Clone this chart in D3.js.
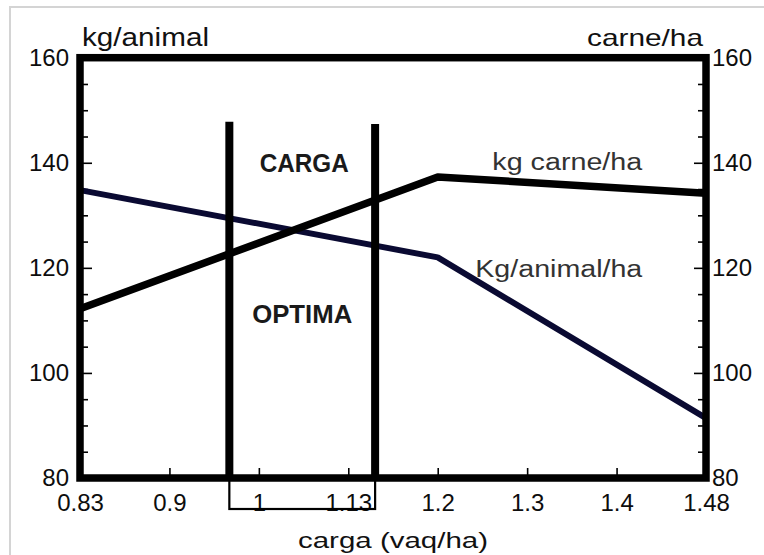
<!DOCTYPE html>
<html>
<head>
<meta charset="utf-8">
<script src="https://cdn.jsdelivr.net/npm/d3@7"></script>
<style>
    body { margin: 0; background: #fff; }
    svg { display: block; }
    text { font-family: "Liberation Sans", Arial, sans-serif; }
</style>
</head>
<body>
<div id="chart"></div>
<script>
'use strict';

// x axis categories (carga, vaq/ha) - drawn evenly spaced like the original
var xTicks = [0.83, 0.9, 1, 1.13, 1.2, 1.3, 1.4, 1.48];
var yTicks = [80, 100, 120, 140, 160];

// series
var carneHa = [[0.83, 112.2], [1.2, 137.3], [1.48, 134.2]];
var animalHa = [[0.83, 134.8], [1.2, 122.0], [1.48, 91.4]];

// carga optima band
var cargaOptima = [0.967, 1.151];
var cargaTop = [147.8, 147.4];

var width = 764, height = 555;
var plotLeft = 80, plotRight = 706, plotTop = 57.7, plotBottom = 478;

// piecewise scale so every tick label gets the same spacing
var x = d3.scaleLinear()
    .domain(xTicks)
    .range(xTicks.map(function (d, i) { return plotLeft + i * (plotRight - plotLeft) / (xTicks.length - 1); }));
var y = d3.scaleLinear().domain([80, 160]).range([plotBottom, plotTop]);

var svg = d3.select('#chart')
    .append('svg')
    .attr('width', width)
    .attr('height', height);

// light border of the original picture
svg.append('path')
    .attr('d', 'M10,' + height + 'V7H' + width)
    .attr('fill', 'none')
    .attr('stroke', '#d4d4d4')
    .attr('stroke-width', 2);

var minor = d3.range(80, 160.1, 5).filter(function (d) { return yTicks.indexOf(d) === -1; });

function styleAxis(size) {
    return function (g) {
        g.select('.domain').remove();
        g.selectAll('line').attr('stroke', '#000').attr('stroke-width', 1.6);
        g.selectAll('text').attr('fill', '#0d0d0d').style('font-size', size + 'px');
    };
}

// left axis
svg.append('g')
    .attr('transform', 'translate(' + plotLeft + ',0)')
    .call(d3.axisLeft(y).tickValues(yTicks).tickSizeInner(-12).tickSizeOuter(0).tickPadding(11))
    .call(styleAxis(24));
svg.append('g')
    .attr('transform', 'translate(' + plotLeft + ',0)')
    .call(d3.axisLeft(y).tickValues(minor).tickSizeInner(-8).tickSizeOuter(0).tickFormat(''))
    .call(styleAxis(24));

// right axis
svg.append('g')
    .attr('transform', 'translate(' + plotRight + ',0)')
    .call(d3.axisRight(y).tickValues(yTicks).tickSizeInner(-12).tickSizeOuter(0).tickPadding(6))
    .call(styleAxis(24));
svg.append('g')
    .attr('transform', 'translate(' + plotRight + ',0)')
    .call(d3.axisRight(y).tickValues(minor).tickSizeInner(-8).tickSizeOuter(0).tickFormat(''))
    .call(styleAxis(24));

// bottom axis
svg.append('g')
    .attr('transform', 'translate(0,' + plotBottom + ')')
    .call(d3.axisBottom(x).tickValues(xTicks).tickSizeInner(-10).tickSizeOuter(0).tickPadding(16)
        .tickFormat(function (d) { return String(d); }))
    .call(styleAxis(24));

// the series
var line = d3.line()
    .x(function (d) { return x(d[0]); })
    .y(function (d) { return y(d[1]); });

svg.append('path')
    .datum(animalHa)
    .attr('d', line)
    .attr('fill', 'none')
    .attr('stroke', '#0a0a32')
    .attr('stroke-width', 6)
    .attr('stroke-linejoin', 'round');

svg.append('path')
    .datum(carneHa)
    .attr('d', line)
    .attr('fill', 'none')
    .attr('stroke', '#000')
    .attr('stroke-width', 7.5)
    .attr('stroke-linejoin', 'round');

// box under the axis marking the optimum
svg.append('rect')
    .attr('x', x(cargaOptima[0]))
    .attr('y', plotBottom)
    .attr('width', x(cargaOptima[1]) - x(cargaOptima[0]))
    .attr('height', 31)
    .attr('fill', 'none')
    .attr('stroke', '#000')
    .attr('stroke-width', 2.2);

svg.selectAll('.carga-line')
    .data(cargaOptima)
    .enter()
    .append('line')
    .attr('class', 'carga-line')
    .attr('x1', function (d) { return x(d); })
    .attr('x2', function (d) { return x(d); })
    .attr('y1', function (d, i) { return y(cargaTop[i]); })
    .attr('y2', plotBottom)
    .attr('stroke', '#000')
    .attr('stroke-width', 8);

// frame
svg.append('rect')
    .attr('x', plotLeft)
    .attr('y', plotTop)
    .attr('width', plotRight - plotLeft)
    .attr('height', plotBottom - plotTop)
    .attr('fill', 'none')
    .attr('stroke', '#000')
    .attr('stroke-width', 7.5);

// texts
function label(txt, px, py, size, anchor, len, weight, color) {
    var t = svg.append('text')
        .attr('x', px)
        .attr('y', py)
        .attr('text-anchor', anchor)
        .attr('fill', color || '#111')
        .style('font-size', size + 'px')
        .style('font-weight', weight || 'normal')
        .text(txt);
    if (len) {
        t.attr('textLength', len).attr('lengthAdjust', 'spacingAndGlyphs');
    }
    return t;
}

label('kg/animal', 82, 46, 25, 'start', 127);
label('carne/ha', 703, 46, 24, 'end', 116);
label('carga (vaq/ha)', 393, 548, 22, 'middle', 190);

var midBand = (x(cargaOptima[0]) + x(cargaOptima[1])) / 2;
label('CARGA', midBand + 2, 172, 25, 'middle', 89, 'bold', '#1a1a1a');
label('OPTIMA', midBand, 323, 25, 'middle', 100, 'bold', '#1a1a1a');

label('kg carne/ha', x(1.423), 170, 23, 'end', 150, 'normal', '#333');
label('Kg/animal/ha', x(1.423), 277, 23, 'end', 167, 'normal', '#333');
</script>
</body>
</html>
